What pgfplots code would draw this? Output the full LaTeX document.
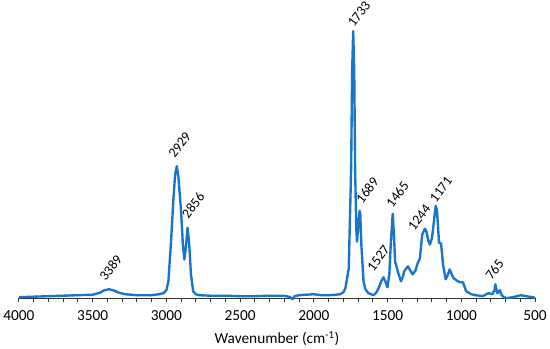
\documentclass[border=0pt]{standalone}
\usepackage{fontspec}
\setmainfont{Carlito}
\usepackage{pgfplots}
\pgfplotsset{compat=1.18}
\definecolor{specblue}{RGB}{24,116,205}
\begin{document}
\begin{tikzpicture}
\begin{axis}[
  width=520bp, height=297bp, scale only axis,
  xmin=500, xmax=4000, x dir=reverse,
  ymin=0, ymax=297,
  axis x line*=bottom,
  hide y axis,
  xtick={500,1000,...,4000},
  minor xtick={600,700,...,3900},
  tick align=outside,
  major tick length=4bp, minor tick length=4bp,
  every tick/.style={black!80, line width=0.8pt},
  x axis line style={black!80, line width=0.8pt},
  /pgf/number format/assume math mode=true,
  /pgf/number format/set thousands separator={},
  xticklabel style={font=\fontsize{15.5}{17}\selectfont, yshift=-5bp},
  xlabel={Wavenumber (cm\textsuperscript{-1})},
  xlabel style={font=\fontsize{15.5}{17}\selectfont, yshift=-4bp},
  clip=false,
]
\addplot[specblue, line width=2.4pt, line join=round] coordinates {
(4000,1) (3900,1.5) (3800,2) (3700,2.5) (3600,3) (3500,3.5) (3450,5.5) (3420,8)
(3389,9) (3360,8) (3320,5.5) (3280,4) (3200,3) (3100,3) (3050,4) (3020,5)
(3000,8) (2986,17) (2968,57) (2952,100) (2940,125) (2929,133) (2918,122)
(2901,90) (2888,55) (2878,39) (2868,50) (2856,71) (2845,55) (2833,24) (2818,7)
(2800,4) (2780,3) (2700,2.5) (2600,2.5) (2500,2) (2400,2) (2300,2.5) (2200,2.5)
(2160,1) (2145,-1) (2130,2) (2100,3) (2050,3.5) (2000,4) (1950,3) (1900,3)
(1850,3.5) (1820,4) (1800,6) (1786,10) (1763,30) (1747,130) (1740,230)
(1733,269) (1726,230) (1720,130) (1712,70) (1707,57) (1700,70) (1690,88)
(1685,85) (1678,55) (1671,37) (1663,17) (1650,9) (1629,5) (1595,3) (1575,6)
(1561,10) (1540,18) (1528,21) (1515,17) (1501,11) (1488,24) (1478,55) (1465,85)
(1457,65) (1449,37) (1427,25) (1409,17) (1395,22) (1388,27) (1362,32) (1330,24)
(1310,28) (1299,34) (1281,40) (1265,64) (1247,70) (1236,67) (1224,58) (1213,54)
(1200,60) (1191,70) (1180,85) (1173,93) (1165,88) (1160,77) (1151,56) (1137,55)
(1124,34) (1106,19) (1090,24) (1079,29) (1065,24) (1052,20) (1023,17) (1005,16)
(989,16) (967,7) (933,4) (900,3) (855,2) (830,4) (815,5) (790,4) (775,8)
(769,14) (762,9) (756,5) (745,7) (738,8) (730,4) (720,2) (696,0) (650,1)
(596,3) (560,2) (514,1) (500,0)
};
\coordinate (p3389) at (axis cs:3389,9);
\coordinate (p2929) at (axis cs:2929,133);
\coordinate (p2856) at (axis cs:2856,71);
\coordinate (p1733) at (axis cs:1733,269);
\coordinate (p1689) at (axis cs:1689,88);
\coordinate (p1527) at (axis cs:1527,21);
\coordinate (p1465) at (axis cs:1465,85);
\coordinate (p1244) at (axis cs:1244,70);
\coordinate (p1171) at (axis cs:1171,93);
\coordinate (p765) at (axis cs:765,14);
\end{axis}
\tikzset{pk/.style={anchor=south west, rotate=53, inner sep=0pt, font=\fontsize{14}{16}\selectfont}}
\node[pk] at ([xshift=-3bp, yshift=7bp]p3389) {3389};
\node[pk] at ([xshift=-2bp, yshift=7bp]p2929) {2929};
\node[pk] at ([xshift=1bp, yshift=8bp]p2856) {2856};
\node[pk] at ([xshift=1bp, yshift=3bp]p1733) {1733};
\node[pk] at ([xshift=3bp, yshift=6bp]p1689) {1689};
\node[pk] at ([xshift=-10bp, yshift=5bp]p1527) {1527};
\node[pk] at ([xshift=0bp, yshift=5bp]p1465) {1465};
\node[pk] at ([xshift=-11bp, yshift=-3bp]p1244) {1244};
\node[pk] at ([xshift=0bp, yshift=2bp]p1171) {1171};
\node[pk] at ([xshift=-4bp, yshift=3bp]p765) {765};
\end{tikzpicture}
\end{document}
